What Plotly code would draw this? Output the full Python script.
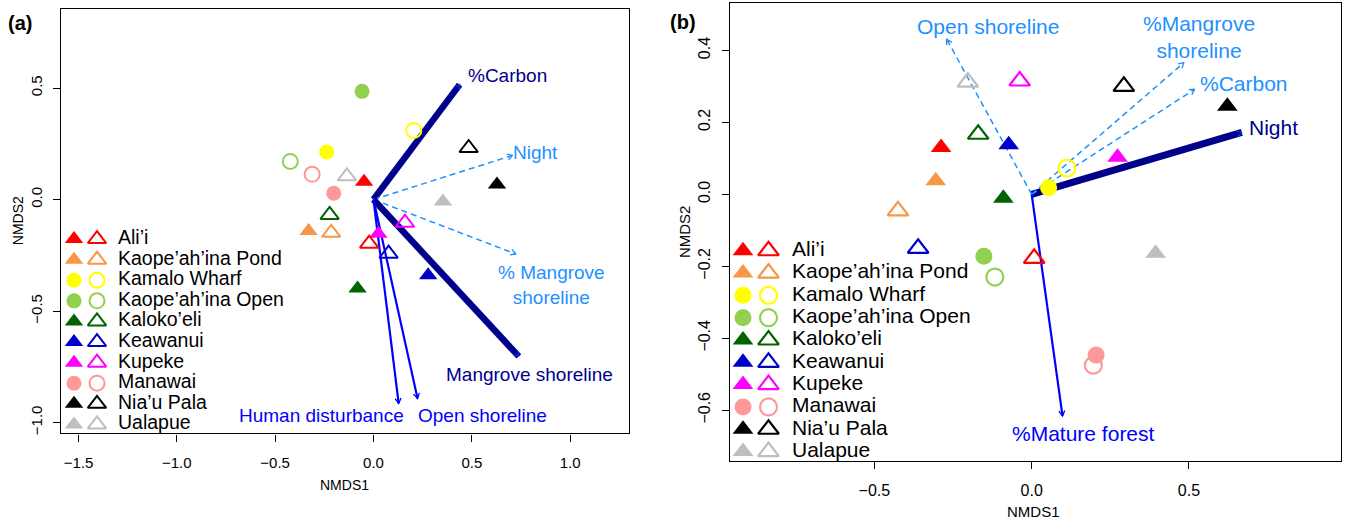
import math
import plotly.graph_objects as go

W, H = 1346, 522
FONT = "Liberation Sans, Arial, sans-serif"

# ---------------- data ----------------
sites = ["Ali’i", "Kaope’ah’ina Pond", "Kamalo Wharf", "Kaope’ah’ina Open", "Kaloko’eli",
         "Keawanui", "Kupeke", "Manawai", "Nia’u Pala", "Ualapue"]
site_colors = ["#FF0000", "#F79646", "#FFFF00", "#92D050", "#006400",
               "#0000CD", "#FF00FF", "#FF9999", "#000000", "#BEBEBE"]
site_symbols = ["triangle-up", "triangle-up", "circle", "circle", "triangle-up",
                "triangle-up", "triangle-up", "circle", "triangle-up", "triangle-up"]

# panel (a) site scores (filled = first survey, open = second survey)
a_fill_x = [-0.048, -0.330, -0.238, -0.058, -0.081, 0.278, 0.025, -0.202, 0.628, 0.353]
a_fill_y = [0.080, -0.141, 0.213, 0.485, -0.399, -0.339, -0.153, 0.028, 0.067, -0.009]
a_open_x = [-0.022, -0.215, 0.205, -0.423, -0.223, 0.077, 0.160, -0.312, 0.484, -0.135]
a_open_y = [-0.198, -0.149, 0.310, 0.171, -0.069, -0.243, -0.104, 0.113, 0.231, 0.104]

# panel (b) site scores
b_fill_x = [-0.288, -0.305, 0.054, -0.152, -0.090, -0.073, 0.273, 0.205, 0.622, 0.394]
b_fill_y = [0.130, 0.038, 0.018, -0.172, -0.011, 0.138, 0.103, -0.447, 0.245, -0.164]
b_open_x = [0.008, -0.425, 0.112, -0.117, -0.170, -0.361, -0.038, 0.196, 0.293, -0.203]
b_open_y = [-0.178, -0.046, 0.073, -0.230, 0.167, -0.150, 0.315, -0.475, 0.300, 0.312]

# environmental vectors
a_vec_names = ["%Carbon", "Night", "% Mangrove<br>shoreline", "Mangrove shoreline",
               "Human disturbance", "Open shoreline"]
a_vec_x = [0.438, 0.707, 0.724, 0.739, 0.128, 0.224]
a_vec_y = [0.515, 0.198, -0.244, -0.703, -0.914, -0.892]
a_vec_kind = ["thick", "dash", "dash", "thick", "solid", "solid"]

b_vec_names = ["Night", "%Carbon", "%Mangrove<br>shoreline", "Open shoreline", "%Mature forest"]
b_vec_x = [0.668, 0.518, 0.484, -0.270, 0.098]
b_vec_y = [0.172, 0.292, 0.366, 0.431, -0.616]
b_vec_kind = ["thick", "dash", "dash", "dash", "solid"]

a_xticks = [-1.5, -1.0, -0.5, 0.0, 0.5, 1.0]
a_yticks = [-1.0, -0.5, 0.0, 0.5]
b_xticks = [-0.5, 0.0, 0.5]
b_yticks = [-0.6, -0.4, -0.2, 0.0, 0.2, 0.4]

# ---------------- styling / layout ----------------
PANEL = {
    "a": dict(px=(60.8, 628.75), py=(9.3, 435.0), xr=(-1.590, 1.298), yr=(-1.048, 0.853),
              xa="x", ya="y", tri=16, circ=15, ow=2.0, thick=6.5, tickfont=15, titlefont=14,
              labfont=19, legfont=19.5, leg_y0=240.0, leg_dy=20.67, leg_x=(74.0, 97.0, 118.0),
              lab=[("left", 6, 9), ("left", -2, 3), ("left", -20, -31), ("center", 11, -18),
                   ("right", 7, -12), ("left", -2, -17)]),
    "b": dict(px=(730.0, 1341.2), py=(3.3, 462.3), xr=(-0.959, 0.984), yr=(-0.740, 0.531),
              xa="x2", ya="y2", tri=18, circ=17, ow=2.2, thick=7, tickfont=16, titlefont=15,
              labfont=21, legfont=21, leg_y0=251.7, leg_dy=22.4, leg_x=(743.0, 768.5, 792.0),
              lab=[("left", 5, 5), ("left", 3, 6), ("left", -43, 26), ("center", 41, 13),
                   ("center", 21, -18)]),
}
for p in PANEL.values():
    p["sx"] = (p["px"][1] - p["px"][0]) / (p["xr"][1] - p["xr"][0])
    p["sy"] = (p["py"][1] - p["py"][0]) / (p["yr"][1] - p["yr"][0])

KIND = {
    "thick": dict(color="#00008B", dash="solid", head="#1030D0", lab="#00008B"),
    "dash": dict(color="#1E90FF", dash="6px,4px", head="#1E90FF", lab="#1E90FF"),
    "solid": dict(color="#0000FF", dash="solid", head="#0000FF", lab="#0000FF"),
}

fig = go.Figure()
annotations = []


def head_pts(xt, yt, p, L=6.0, ang=math.radians(30)):
    dxs, dys = xt * p["sx"], -yt * p["sy"]
    n = math.hypot(dxs, dys)
    vx, vy = -dxs / n, -dys / n
    xs, ys = [], []
    for s in (1, -1):
        c, si = math.cos(s * ang), math.sin(s * ang)
        ex, ey = L * (vx * c - vy * si), L * (vx * si + vy * c)
        xs.append(xt + ex / p["sx"])
        ys.append(yt - ey / p["sy"])
    return [xs[0], xt, xs[1]], [ys[0], yt, ys[1]]


def add_panel(key, names, vx, vy, kinds, fx, fy, ox, oy):
    p = PANEL[key]
    # vectors
    for nm, x, y, k, lab in zip(names, vx, vy, kinds, p["lab"]):
        st = KIND[k]
        w = p["thick"] if k == "thick" else (1.5 if k == "dash" else 2.2)
        fig.add_trace(go.Scatter(x=[0, x], y=[0, y], mode="lines", xaxis=p["xa"], yaxis=p["ya"],
                                 line=dict(color=st["color"], width=w, dash=st["dash"]),
                                 hoverinfo="skip", showlegend=False))
        hx, hy = head_pts(x, y, p)
        fig.add_trace(go.Scatter(x=hx, y=hy, mode="lines", xaxis=p["xa"], yaxis=p["ya"],
                                 line=dict(color=st["head"], width=1.3),
                                 hoverinfo="skip", showlegend=False))
        anc, xs, ys = lab
        annotations.append(dict(x=x, y=y, xref=p["xa"], yref=p["ya"], text=nm, showarrow=False,
                                xanchor=anc, yanchor="middle", xshift=xs, yshift=ys,
                                font=dict(family=FONT, size=p["labfont"], color=st["lab"])))
    # site points
    sizes = [p["tri"] if s.startswith("triangle") else p["circ"] for s in site_symbols]
    fig.add_trace(go.Scatter(x=fx, y=fy, mode="markers", xaxis=p["xa"], yaxis=p["ya"],
                             marker=dict(symbol=site_symbols, color=site_colors, size=sizes,
                                         opacity=1, line=dict(width=0)),
                             text=sites, showlegend=False))
    fig.add_trace(go.Scatter(x=ox, y=oy, mode="markers", xaxis=p["xa"], yaxis=p["ya"],
                             marker=dict(symbol=[s + "-open" for s in site_symbols],
                                         color=site_colors, size=sizes, opacity=1,
                                         line=dict(width=p["ow"], color=site_colors)),
                             text=sites, showlegend=False))
    # hand-built legend (two symbols per row) on the pixel overlay axes
    rows = [p["leg_y0"] + i * p["leg_dy"] for i in range(len(sites))]
    xf, xo, xt = p["leg_x"]
    fig.add_trace(go.Scatter(x=[xf] * len(sites), y=rows, mode="markers", xaxis="x3", yaxis="y3",
                             marker=dict(symbol=site_symbols, color=site_colors, size=sizes,
                                         opacity=1, line=dict(width=0)),
                             hoverinfo="skip", showlegend=False))
    fig.add_trace(go.Scatter(x=[xo] * len(sites), y=rows, mode="markers", xaxis="x3", yaxis="y3",
                             marker=dict(symbol=[s + "-open" for s in site_symbols],
                                         color=site_colors, size=sizes, opacity=1,
                                         line=dict(width=p["ow"], color=site_colors)),
                             hoverinfo="skip", showlegend=False))
    fig.add_trace(go.Scatter(x=[xt] * len(sites), y=rows, mode="text", xaxis="x3", yaxis="y3",
                             text=sites, textposition="middle right",
                             textfont=dict(family=FONT, size=p["legfont"], color="#000000"),
                             hoverinfo="skip", showlegend=False))


add_panel("a", a_vec_names, a_vec_x, a_vec_y, a_vec_kind, a_fill_x, a_fill_y, a_open_x, a_open_y)
add_panel("b", b_vec_names, b_vec_x, b_vec_y, b_vec_kind, b_fill_x, b_fill_y, b_open_x, b_open_y)


def axis(p, ticks, rng, dom, is_y):
    d = dict(range=list(rng), domain=dom, tickvals=ticks, tickformat=".1f",
             showgrid=False, zeroline=False, showline=True, mirror=True,
             linecolor="#000000", linewidth=1.4, ticks="outside", ticklen=7, tickwidth=1.2,
             tickcolor="#000000", tickfont=dict(family=FONT, size=p["tickfont"], color="#000000"))
    if is_y:
        d.update(tickangle=-90, ticklabelstandoff=5)
    else:
        d.update(ticklabelstandoff=8)
    return d


def xdom(p):
    return [p["px"][0] / W, p["px"][1] / W]


def ydom(p):
    return [1 - p["py"][1] / H, 1 - p["py"][0] / H]


pa, pb = PANEL["a"], PANEL["b"]
layout = dict(
    width=W, height=H, margin=dict(l=0, r=0, t=0, b=0),
    paper_bgcolor="#FFFFFF", plot_bgcolor="rgba(0,0,0,0)", showlegend=False,
    xaxis=dict(axis(pa, a_xticks, pa["xr"], xdom(pa), False), anchor="y"),
    yaxis=dict(axis(pa, a_yticks, pa["yr"], ydom(pa), True), anchor="x"),
    xaxis2=dict(axis(pb, b_xticks, pb["xr"], xdom(pb), False), anchor="y2"),
    yaxis2=dict(axis(pb, b_yticks, pb["yr"], ydom(pb), True), anchor="x2"),
    xaxis3=dict(range=[0, W], domain=[0, 1], visible=False, anchor="y3"),
    yaxis3=dict(range=[H, 0], domain=[0, 1], visible=False, anchor="x3"),
)

# panel tags and axis titles (placed in pixel positions of the figure)
for txt, x, y, sz, bold, ang in [
    ("(a)", 20, 23, 20, True, 0), ("(b)", 683, 22, 20, True, 0),
    ("NMDS1", 344, 487, pa["titlefont"], False, 0), ("NMDS1", 1033, 513, pb["titlefont"], False, 0),
    ("NMDS2", 18, 222, pa["titlefont"], False, -90), ("NMDS2", 684, 233, pb["titlefont"], False, -90),
]:
    annotations.append(dict(x=x / W, y=1 - y / H, xref="paper", yref="paper",
                            text=f"<b>{txt}</b>" if bold else txt, showarrow=False,
                            xanchor="center", yanchor="middle", textangle=ang,
                            font=dict(family=FONT, size=sz, color="#000000")))

layout["annotations"] = annotations
fig.update_layout(**layout)
fig.write_html("out.html")
